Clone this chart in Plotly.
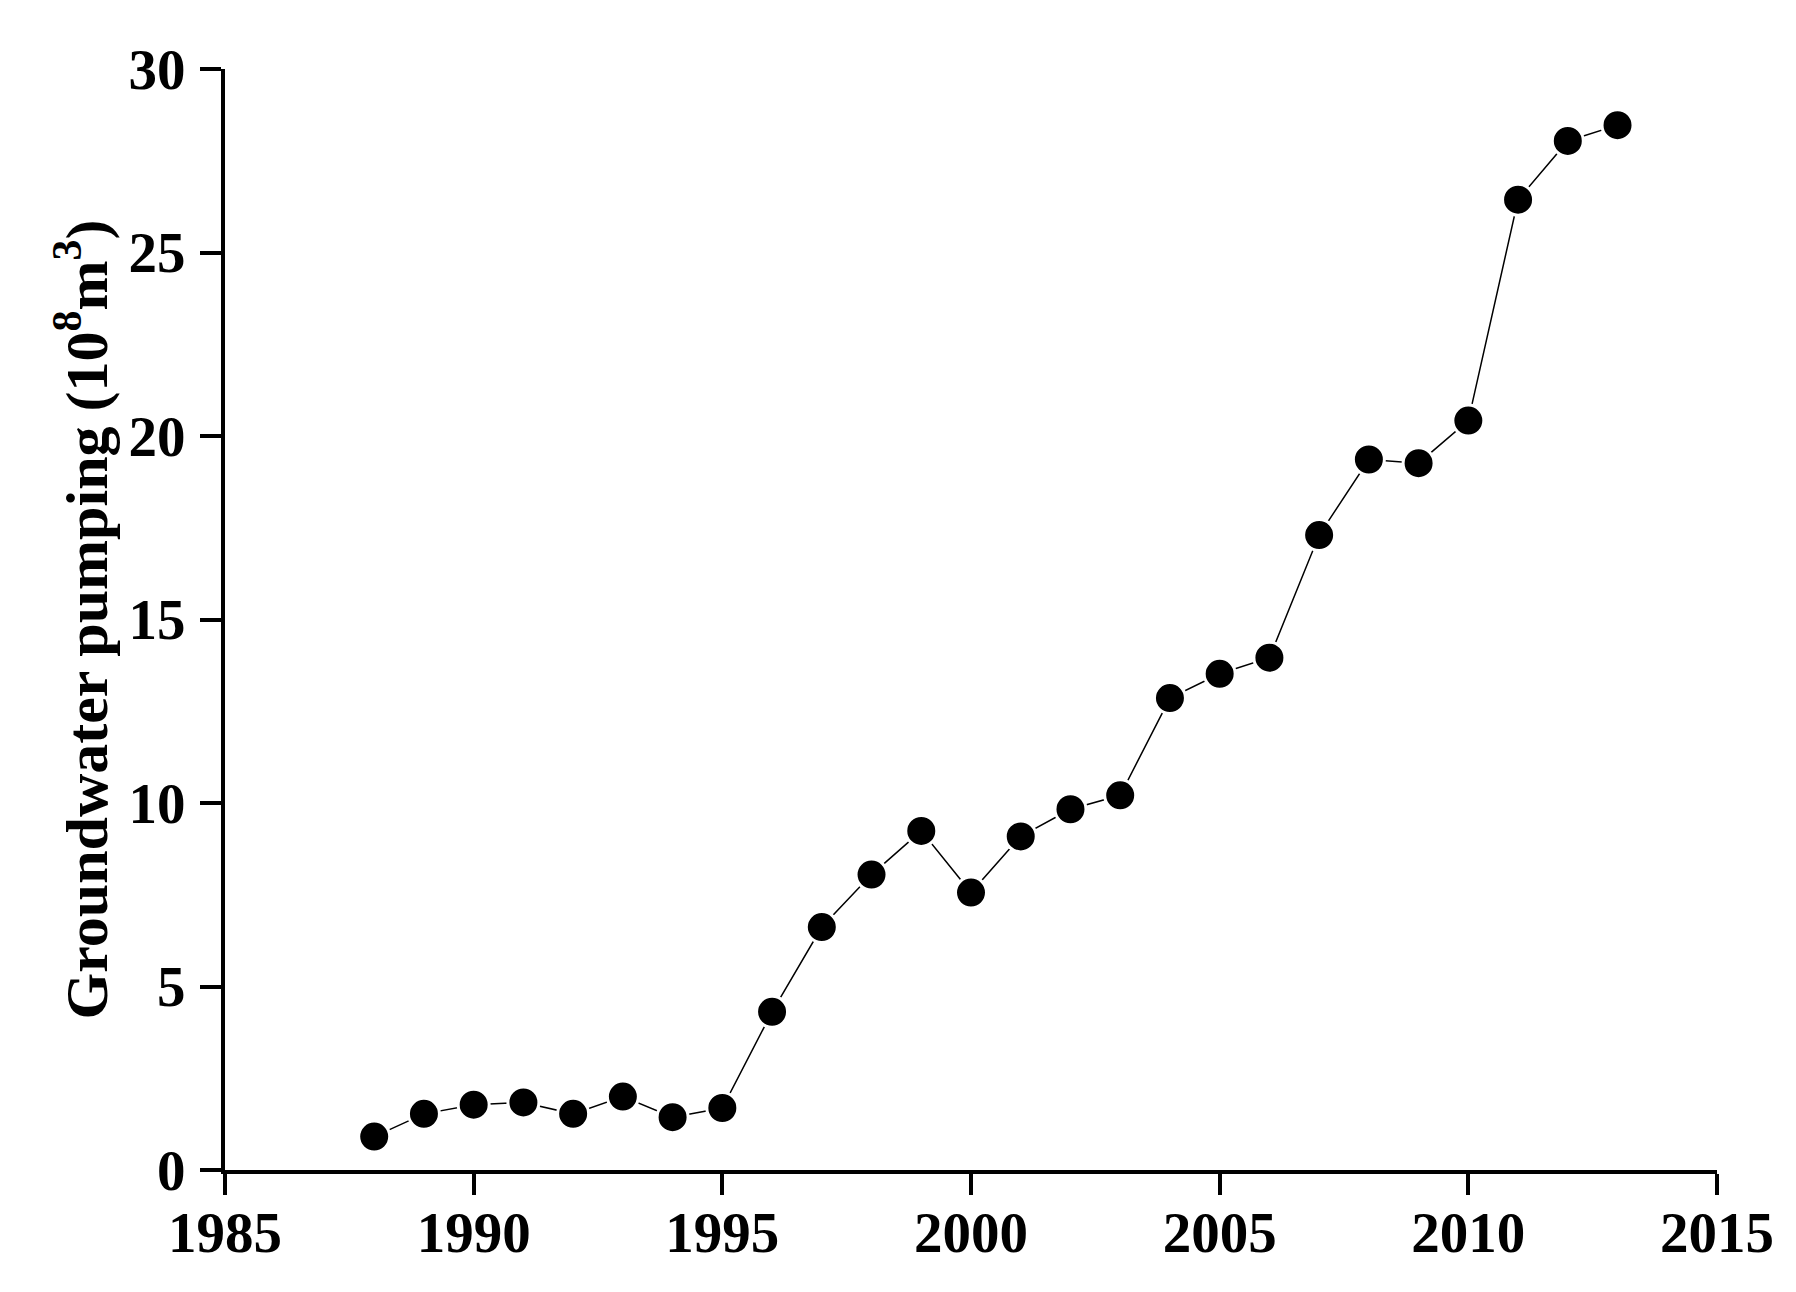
import plotly.graph_objects as go

years = [1988, 1989, 1990, 1991, 1992, 1993, 1994, 1995, 1996, 1997, 1998, 1999, 2000,
         2001, 2002, 2003, 2004, 2005, 2006, 2007, 2008, 2009, 2010, 2011, 2012, 2013]
pumping = [0.91, 1.53, 1.78, 1.84, 1.53, 2.0, 1.44, 1.69, 4.31, 6.62, 8.05, 9.24, 7.56,
           9.09, 9.83, 10.21, 12.86, 13.52, 13.96, 17.3, 19.36, 19.26, 20.42, 26.44, 28.04, 28.47]

x_ticks = [1985, 1990, 1995, 2000, 2005, 2010, 2015]
y_ticks = [0, 5, 10, 15, 20, 25, 30]

font_family = "Liberation Serif, Times New Roman, serif"

fig = go.Figure()
fig.add_trace(go.Scatter(
    x=years, y=pumping, mode="lines+markers",
    line=dict(color="black", width=1.5),
    marker=dict(color="black", size=31, symbol="circle",
                line=dict(color="white", width=3)),
    showlegend=False,
))

axis_common = dict(
    showline=True, linecolor="black", linewidth=4,
    ticks="outside", ticklen=21, tickwidth=4, tickcolor="black",
    showgrid=False, zeroline=False,
    tickfont=dict(family=font_family, size=57, color="black", weight="bold"),
)

fig.update_layout(
    width=1780, height=1276,
    margin=dict(l=217, r=71, t=61, b=114),
    plot_bgcolor="white", paper_bgcolor="white",
    xaxis=dict(range=[1985, 2015], tickvals=x_ticks,
               ticktext=[str(v) for v in x_ticks],
               ticklabelstandoff=-11, **axis_common),
    yaxis=dict(range=[0, 30], tickvals=y_ticks,
               ticktext=[str(v) for v in y_ticks],
               ticklabelstandoff=3,
               title=dict(text="<b>Groundwater pumping (10<sup>8</sup>m<sup>3</sup>)</b>",
                          font=dict(family=font_family, size=60, color="black"),
                          standoff=3),
               **axis_common),
)

fig.write_html("out.html")
